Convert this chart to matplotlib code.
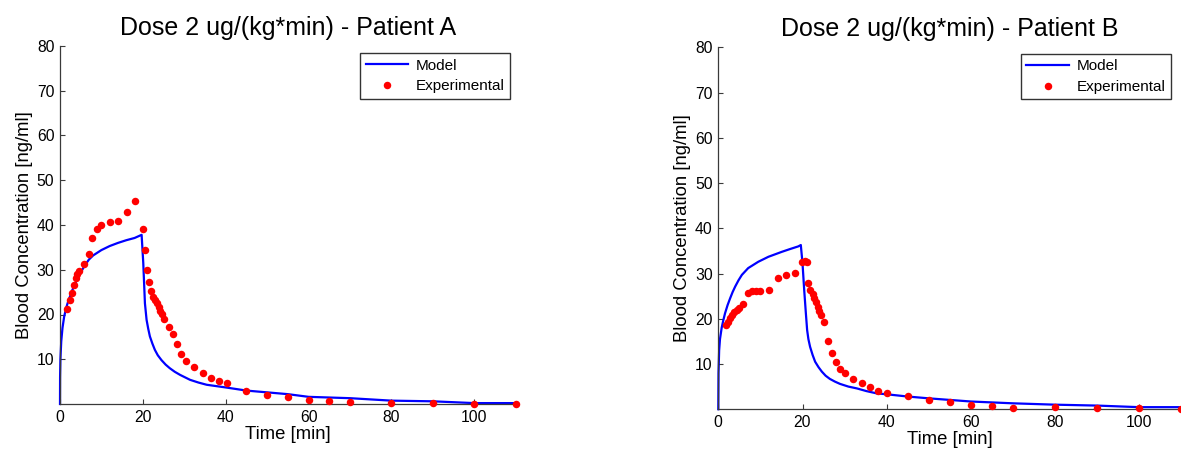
import matplotlib
matplotlib.use("Agg")
import matplotlib.pyplot as plt

plt.rcParams['font.family'] = ['Liberation Sans', 'DejaVu Sans']

# ---------------- data ----------------
titles = ["Dose 2 ug/(kg*min) - Patient A", "Dose 2 ug/(kg*min) - Patient B"]
xlabel = "Time [min]"
ylabel = "Blood Concentration [ng/ml]"
legend_labels = ["Model", "Experimental"]
xticks = [0, 20, 40, 60, 80, 100]
yticks = [10, 20, 30, 40, 50, 60, 70, 80]

# Patient A
a_exp_t = [1.7, 2.3, 2.8, 3.3, 3.8, 4.2, 4.7, 5.9, 6.9, 7.8, 8.9, 10.0, 12.0, 14.1, 16.2, 18.2,
           20.0, 20.5, 21.0, 21.5, 22.0, 22.5, 22.9, 23.3, 23.8, 24.2, 24.7, 25.1, 26.2, 27.3, 28.2,
           29.3, 30.3, 32.4, 34.4, 36.5, 38.3, 40.4, 45, 50, 55, 60, 65, 70, 80, 90, 100, 110]
a_exp_c = [21.3, 23.2, 24.8, 26.7, 28.1, 29.0, 29.7, 31.3, 33.5, 37.0, 39.1, 39.9, 40.6, 41.0, 42.9, 45.3,
           39.2, 34.4, 29.9, 27.2, 25.3, 24.0, 23.2, 22.5, 21.7, 20.8, 20.1, 19.1, 17.2, 15.6, 13.3,
           11.2, 9.7, 8.3, 6.9, 5.9, 5.1, 4.6, 3.0, 2.1, 1.6, 0.9, 0.6, 0.45, 0.25, 0.25, 0.1, 0.1]
a_mod_t = [0, 0.02, 0.1, 0.3, 0.6, 1.0, 1.5, 2, 3, 4, 5, 6, 7, 8, 10, 12, 14, 16, 18, 19.7,
           20.1, 20.5, 20.9, 21.3, 21.7, 22.3, 22.9, 23.6, 24.5, 25.5, 26.5, 27.7, 29, 31.4, 33.4,
           35.4, 40, 45, 50, 55, 60, 70, 80, 90, 100, 110]
a_mod_c = [0, 6, 10, 14, 17, 19.5, 21.5, 23, 25.5, 27.6, 29.4, 31, 32.3, 33.2, 34.4, 35.3, 36, 36.6, 37.1, 37.8,
           31.5, 22.5, 18.8, 16.8, 15.1, 13.5, 12.1, 10.9, 9.8, 8.8, 8.0, 7.2, 6.5, 5.4, 4.8,
           4.3, 3.7, 3.0, 2.6, 2.2, 1.6, 1.3, 0.75, 0.6, 0.2, 0.2]

# Patient B
b_exp_t = [1.8, 2.3, 2.8, 3.3, 3.7, 4.4, 5.0, 5.95, 7.0, 7.9, 9.0, 9.9, 12.1, 14.1, 16.1, 18.2,
           19.8, 20.5, 21.0, 21.4, 21.9, 22.4, 22.8, 23.3, 23.7, 24.0, 24.5, 25.0, 26.0, 27.1, 28.0,
           29.0, 30.0, 32.1, 34.1, 36.1, 38.0, 40.1, 45, 50, 55, 60, 65, 70, 80, 90, 100, 110]
b_exp_c = [18.6, 19.3, 20.1, 20.8, 21.5, 22.0, 22.4, 23.2, 25.8, 26.2, 26.2, 26.2, 26.4, 29.0, 29.6, 30.1,
           32.6, 32.7, 32.6, 27.9, 26.3, 25.4, 24.5, 23.6, 22.7, 21.8, 20.9, 19.3, 15.1, 12.5, 10.4,
           8.8, 8.0, 6.6, 5.9, 5.0, 4.1, 3.5, 2.9, 2.1, 1.6, 1.0, 0.7, 0.3, 0.4, 0.3, 0.3, 0.0]
b_mod_t = [0, 0.05, 0.2, 0.4, 0.8, 1.2, 1.6, 2.2, 2.8, 3.4, 4.0, 4.8, 5.6, 7.1, 8.3, 9.5, 11.9, 15.1, 17.0, 19.0, 19.6,
           20.0, 20.4, 20.8, 21.1, 21.4, 21.8, 22.4, 23.0, 23.8, 24.6, 25.5, 26.5, 27.7, 28.9, 30.9, 32.9,
           35.2, 37.6, 40, 45, 50, 60, 70, 80, 90, 100, 110]
b_mod_c = [0, 8, 13, 15.5, 18, 19.7, 21.2, 23.0, 24.5, 25.9, 27.1, 28.5, 29.7, 31.2, 31.9, 32.6, 33.7, 34.8, 35.4, 36.0, 36.3,
           32.3, 26.4, 21.2, 17.5, 15.5, 13.8, 12.0, 10.5, 9.3, 8.3, 7.4, 6.7, 6.1, 5.6, 5.0, 4.6,
           4.0, 3.5, 3.3, 2.8, 2.4, 1.7, 1.3, 1.0, 0.8, 0.45, 0.45]

panels = [
    (a_mod_t, a_mod_c, a_exp_t, a_exp_c, titles[0]),
    (b_mod_t, b_mod_c, b_exp_t, b_exp_c, titles[1]),
]

# ---------------- layout ----------------
W, H = 1181, 453
fig = plt.figure(figsize=(W / 100, H / 100), dpi=100)

# axes rectangles in pixels: left, right, top, bottom
rects = [(60.0, 515.7, 46.0, 404.0), (718.3, 1181.4, 47.4, 409.2)]
leg_anchor = [(0.988, 0.980), (0.9775, 0.982)]

axis_col = '#3a3a3a'
for (mt, mc, et, ec, title), (l, r, t, b), anc in zip(panels, rects, leg_anchor):
    ax = fig.add_axes([l / W, (H - b) / H, (r - l) / W, (b - t) / H])
    ax.plot(mt, mc, color='#0000ff', lw=1.6, label=legend_labels[0], clip_on=False, zorder=2)
    ax.plot(et, ec, linestyle='none', marker='o', ms=5.4, mfc='#ff0000', mec='#ff0000',
            mew=0, label=legend_labels[1], clip_on=False, zorder=3)
    ax.set_xlim(0, 110)
    ax.set_ylim(0, 80)
    ax.set_xticks(xticks)
    ax.set_yticks(yticks)
    for s in ['top', 'right']:
        ax.spines[s].set_visible(False)
    for s in ['left', 'bottom']:
        ax.spines[s].set_color(axis_col)
        ax.spines[s].set_linewidth(0.9)
    ax.tick_params(direction='in', length=3.5, width=0.8, color=axis_col,
                   labelsize=11.3, labelcolor='black', pad=4)
    ax.set_title(title, fontsize=18, pad=8)
    ax.set_xlabel(xlabel, fontsize=13.3, labelpad=1)
    ax.set_ylabel(ylabel, fontsize=13.3, labelpad=3)
    leg = ax.legend(loc='upper right', bbox_to_anchor=anc, fontsize=11,
                    frameon=True, fancybox=False, borderaxespad=0,
                    handlelength=2.8, handletextpad=0.5, labelspacing=0.45,
                    borderpad=0.35, numpoints=1)
    leg.get_frame().set_edgecolor('black')
    leg.get_frame().set_linewidth(1.0)

fig.savefig("out.png", dpi=100)
